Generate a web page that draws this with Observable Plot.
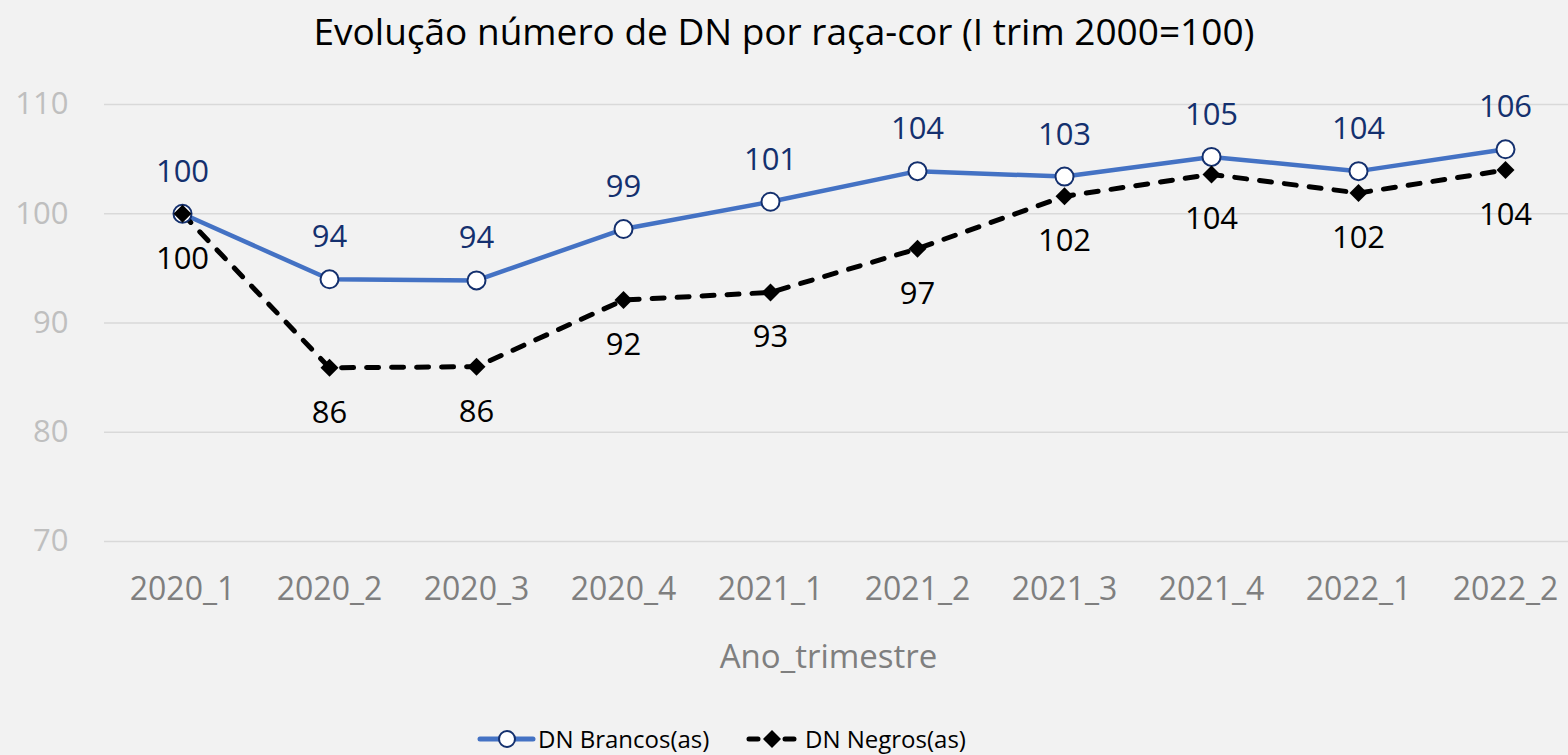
<!DOCTYPE html>
<html><head><meta charset="utf-8">
<script src="https://cdn.jsdelivr.net/npm/d3@7"></script>
<script src="https://cdn.jsdelivr.net/npm/@observablehq/plot@0.6"></script>
<style>
html,body{margin:0;padding:0;background:#f2f2f2;overflow:hidden;width:1568px;height:755px;}
body{font-family:"Open Sans",sans-serif;position:relative;}
#title{position:absolute;left:0;width:1568px;top:12px;text-align:center;font-size:37px;line-height:1;color:#000;white-space:nowrap;}
#chart{position:absolute;left:0;top:70px;width:1600px;}
#chart svg{max-width:none !important;}
.lg{position:absolute;font-size:24px;line-height:1;color:#000;white-space:nowrap;}
.sw{position:absolute;}
</style>
</head><body>
<div id="title">Evolução número de DN por raça-cor (I trim 2000=100)</div>
<div id="chart"></div>
<svg class="sw" style="left:476px;top:726px" width="62" height="26">
  <line x1="4" y1="13" x2="57" y2="13" stroke="#4472c4" stroke-width="5" stroke-linecap="round"/>
  <circle cx="31" cy="13" r="8" fill="#fff" stroke="#14306e" stroke-width="2"/>
</svg>
<span class="lg" id="lg1" style="left:538px;top:727px">DN Brancos(as)</span>
<svg class="sw" style="left:742px;top:726px" width="60" height="26">
  <line x1="7" y1="13" x2="53" y2="13" stroke="#000" stroke-width="5" stroke-dasharray="9,9" stroke-linecap="round"/>
  <path d="M30,4 L39,13 L30,22 L21,13 Z" fill="#000"/>
</svg>
<span class="lg" id="lg2" style="left:805px;top:727px">DN Negros(as)</span>
<script>
const categories = ["2020_1","2020_2","2020_3","2020_4","2021_1","2021_2","2021_3","2021_4","2022_1","2022_2"];
const brancos = [100, 94.0, 93.9, 98.6, 101.1, 103.9, 103.4, 105.2, 103.9, 105.9];
const negros  = [100, 85.9, 86.0, 92.1, 92.8, 96.8, 101.6, 103.6, 101.9, 104.0];
const yTicks = [70, 80, 90, 100, 110];
const xLabel = "Ano_trimestre";

const rows = categories.map((c, i) => ({cat: c, b: brancos[i], n: negros[i]}));

const chart = Plot.plot({
  width: 1600, height: 620,
  marginLeft: 104, marginRight: 18, marginTop: 34, marginBottom: 149,
  style: {background: "transparent", fontFamily: "Open Sans", overflow: "visible", maxWidth: "none"},
  x: {type: "point", domain: categories, padding: 0.5, label: null},
  y: {domain: [70, 110], label: null},
  marks: [
    Plot.gridY(yTicks, {stroke: "#d9d9d9", strokeOpacity: 1, strokeWidth: 1.5}),
    Plot.axisY(yTicks, {tickSize: 0, tickPadding: 36, fontSize: 31, color: "#bfbfbf", label: null}),
    Plot.axisX({tickSize: 0, tickPadding: 36, fontSize: 32, color: "#7f7f7f", label: null}),
    Plot.text([xLabel], {frameAnchor: "bottom", dy: 126, dx: -15, fontSize: 33, fill: "#7f7f7f"}),
    Plot.line(rows, {x: "cat", y: "b", stroke: "#4472c4", strokeWidth: 4.5}),
    Plot.line(rows, {x: "cat", y: "n", stroke: "#000", strokeWidth: 5, strokeDasharray: "12,13", strokeLinecap: "round"}),
    Plot.dot(rows, {x: "cat", y: "b", r: 9, fill: "#fff", stroke: "#14306e", strokeWidth: 2}),
    Plot.dot(rows, {x: "cat", y: "n", r: 8.1, symbol: "diamond2", fill: "#000", stroke: "none"}),
    Plot.text(rows, {x: "cat", y: "b", text: d => String(Math.round(d.b)), dy: -42, fontSize: 31, fill: "#14306e"}),
    Plot.text(rows, {x: "cat", y: "n", text: d => String(Math.round(d.n)), dy: 45, fontSize: 31, fill: "#000"})
  ]
});
document.getElementById("chart").appendChild(chart);
</script>
</body></html>
